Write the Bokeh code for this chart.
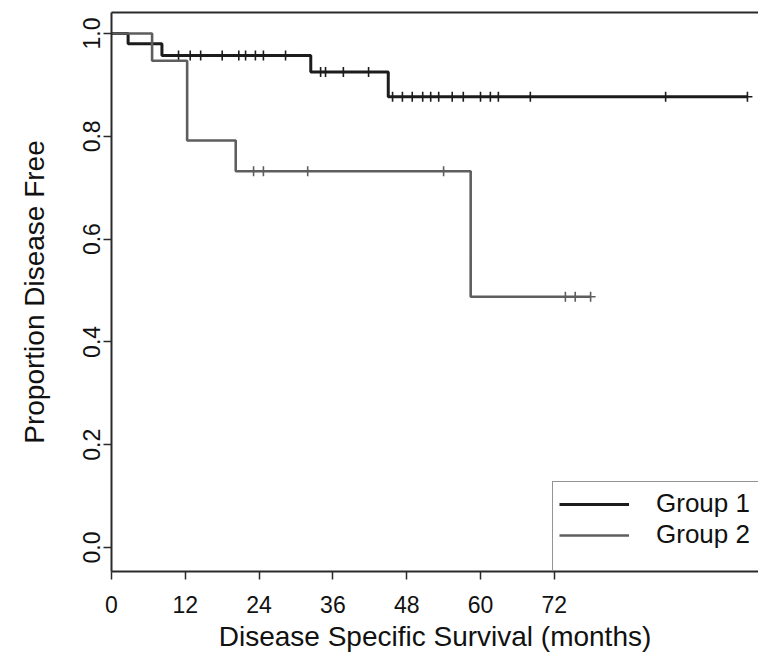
from bokeh.plotting import figure
from bokeh.models import Range1d, FixedTicker, LinearAxis, Legend, LegendItem, NumeralTickFormatter
from bokeh.embed import file_html
from bokeh.resources import INLINE

# ---- data ----
x_ticks = [0, 12, 24, 36, 48, 60, 72]
y_ticks = [0.0, 0.2, 0.4, 0.6, 0.8, 1.0]

g1_event_times = [0, 2.7, 8.2, 32.4, 45.0]
g1_survival = [1.0, 0.980, 0.957, 0.925, 0.877]
g1_last_followup = 103.4
g1_censored = [10.9, 12.8, 14.5, 18.0, 20.7, 21.8, 23.4, 24.7, 28.3,
               34.0, 34.8, 37.7, 41.8,
               45.7, 47.3, 48.9, 50.6, 51.9, 53.2, 55.4, 57.2, 60.0, 61.6,
               62.9, 68.1, 90.1, 103.4]

g2_event_times = [0, 6.6, 12.3, 20.2, 58.4]
g2_survival = [1.0, 0.947, 0.792, 0.732, 0.488]
g2_last_followup = 77.9
g2_censored = [23.1, 24.7, 31.9, 54.0, 73.8, 75.4, 77.9]

groups = ["Group 1", "Group 2"]
colors = ["#1c1c1c", "#5e5e5e"]

FONT = "Liberation Sans"


def surv_at(t, times, surv):
    s = surv[0]
    for ti, si in zip(times, surv):
        if ti <= t:
            s = si
    return s


p = figure(width=758, height=661,
           x_range=Range1d(0, 105.2), y_range=Range1d(-0.0467, 1.0409),
           output_backend="svg", toolbar_location=None,
           min_border_left=111, min_border_right=0,
           min_border_top=12, min_border_bottom=90)
p.grid.visible = False
p.outline_line_color = None
p.background_fill_color = "white"
p.border_fill_color = "white"

renderers = []
for times, surv, last, cens, col, lw in [
        (g1_event_times, g1_survival, g1_last_followup, g1_censored, colors[0], 3),
        (g2_event_times, g2_survival, g2_last_followup, g2_censored, colors[1], 2.6)]:
    xs = list(times) + [last]
    ys = list(surv) + [surv[-1]]
    r = p.step(x=xs, y=ys, mode="after", line_color=col, line_width=lw)
    renderers.append(r)
    cy = [surv_at(t, times, surv) for t in cens]
    p.scatter(x=cens, y=cy, marker="cross", size=10, line_color=col, line_width=1.6)

# axes
for ax in (p.xaxis[0], p.yaxis[0]):
    ax.axis_line_color = "#2a2a2a"
    ax.axis_line_width = 2
    ax.major_tick_line_color = "#2a2a2a"
    ax.major_tick_line_width = 1.5
    ax.major_tick_in = 0
    ax.major_tick_out = 8
    ax.minor_tick_line_color = None
    ax.major_label_text_font = FONT
    ax.major_label_text_font_size = "23px"
    ax.major_label_text_color = "#111111"
    ax.axis_label_text_font = FONT
    ax.axis_label_text_font_size = "28px"
    ax.axis_label_text_font_style = "normal"
    ax.axis_label_text_color = "#111111"

p.xaxis.ticker = FixedTicker(ticks=x_ticks)
p.xaxis.axis_label = "Disease Specific Survival (months)"
p.xaxis.major_label_standoff = 16
p.xaxis.axis_label_standoff = 5

p.yaxis.ticker = FixedTicker(ticks=y_ticks)
p.yaxis.formatter = NumeralTickFormatter(format="0.0")
p.yaxis.major_label_orientation = "vertical"
p.yaxis.axis_label = "Proportion Disease Free"
p.yaxis.major_label_standoff = 3
p.yaxis.axis_label_standoff = 31

top = LinearAxis(ticker=FixedTicker(ticks=[]), major_tick_out=0, major_tick_in=0,
                 major_label_standoff=0, major_label_text_font_size="0px",
                 minor_tick_line_color=None, axis_line_color="#2a2a2a", axis_line_width=2)
p.add_layout(top, "above")

legend = Legend(items=[LegendItem(label=groups[0], renderers=[renderers[0]]),
                       LegendItem(label=groups[1], renderers=[renderers[1]])],
                location=(441, 0), padding=6, spacing=-4,
                glyph_width=70, glyph_height=26, label_height=26, label_width=120,
                label_standoff=27, margin=0,
                title=" ", title_location="below", title_standoff=0,
                title_text_font_size="12px",
                label_text_font=FONT, label_text_font_size="26px", label_text_color="#111111",
                border_line_color="#2a2a2a", border_line_width=1.5,
                background_fill_color="white", background_fill_alpha=1.0)
p.add_layout(legend)

open("out.html", "w").write(file_html(p, INLINE))
